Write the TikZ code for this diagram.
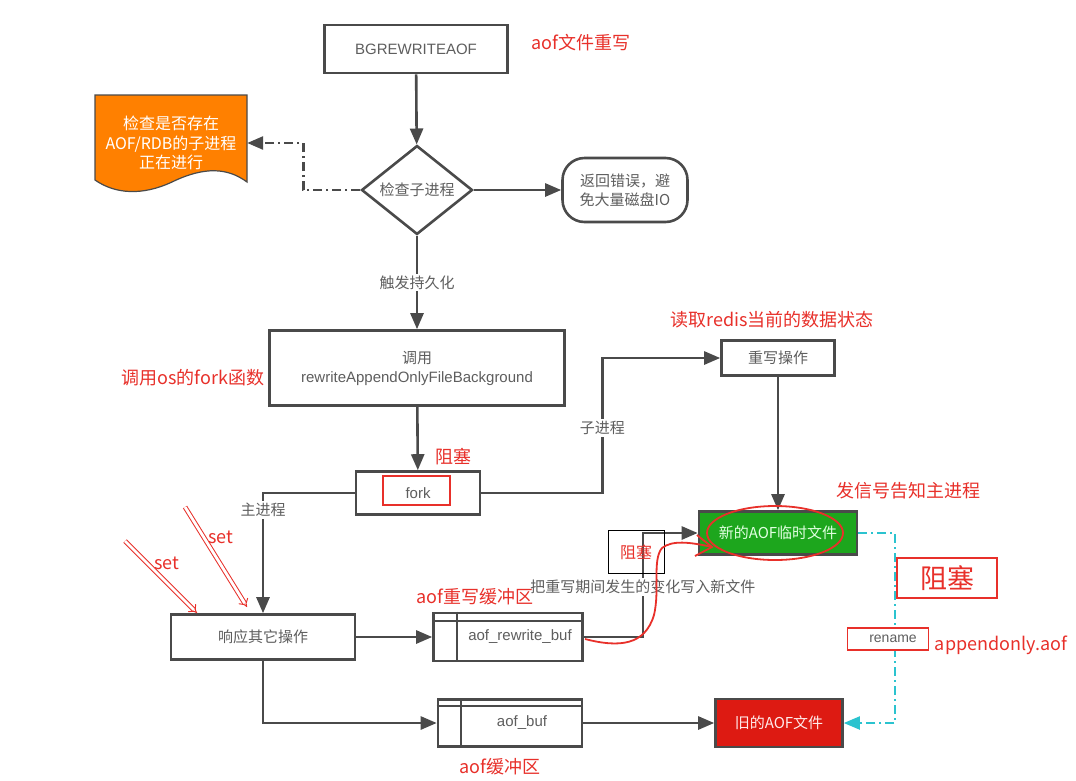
\documentclass[tikz,border=0pt]{standalone}
\usepackage{fontspec}
\setmainfont{Noto Sans CJK SC}
\newfontfamily\latinfont{Liberation Sans}
\usetikzlibrary{arrows.meta,shapes.geometric}

\definecolor{linegray}{HTML}{4A4A4A}
\definecolor{textgray}{HTML}{5E5E5E}
\definecolor{annored}{HTML}{E8302A}
\definecolor{filegreen}{HTML}{1DA61D}
\definecolor{oldred}{HTML}{DD1A12}
\definecolor{docorange}{HTML}{FF8000}
\definecolor{renamecyan}{HTML}{2BC3CF}

\tikzset{
  box/.style={draw=linegray, line width=2.6pt, fill=white, text=textgray,
    font=\fontsize{15}{19}\selectfont, align=center, inner sep=0pt},
  flow/.style={draw=linegray, line width=2.6pt, -{Triangle[length=16pt,width=13pt]}},
  flowlabel/.style={fill=white, text=textgray, font=\fontsize{15}{18}\selectfont, inner sep=2pt},
  note/.style={text=annored, font=\fontsize{18}{22}\selectfont, inner sep=0pt},
  dashdot/.style={dash pattern=on 9pt off 4pt on 2pt off 4pt},
  setarrow/.style={draw=annored, double=white, double distance=2.8pt, line width=1pt, -{Implies[length=9pt,width=16pt]}},
}

\begin{document}
\begin{tikzpicture}[x=1pt, y=-1pt]
  \path[use as bounding box, fill=white] (0,0) rectangle (1076,780);

  % Main column
  \node[box, minimum width=183pt, minimum height=48pt, font=\latinfont\fontsize{15}{18}\selectfont] (bgr) at (416,49) {BGREWRITEAOF};
  \node[box, diamond, minimum width=111pt, minimum height=84pt] (chk) at (417,190) {检查子进程};
  \node[box, rounded corners=22pt, minimum width=125pt, minimum height=64pt] (err) at (625,190) {返回错误，避\\免大量磁盘IO};
  \node[box, minimum width=295pt, minimum height=75pt] (call) at (417,368) {调用\\{\latinfont rewriteAppendOnlyFileBackground}};
  \node[box, minimum width=124pt, minimum height=43pt, font=\latinfont\fontsize{15}{18}\selectfont] (fork) at (418,493) {fork};

  % Document shape on the left
  \filldraw[draw=linegray, line width=1.2pt, fill=docorange] (95,95) -- (247,95) -- (247,182)
    .. controls (228,168) and (205,166) .. (172,182)
    .. controls (142,196) and (115,194) .. (95,180) -- cycle;
  \node[text=white, align=center, font=\fontsize{16}{19.5}\selectfont, minimum width=152pt, minimum height=80pt, inner sep=0pt] (doc) at (171,143) {检查是否存在\\AOF/RDB的子进程\\正在进行};

  % Child process side
  \node[box, minimum width=113pt, minimum height=35pt] (rwop) at (778,358) {重写操作};
  \node[box, draw=linegray, fill=filegreen, text=green!12!white, minimum width=158pt, minimum height=43pt] (newaof) at (778,533) {新的AOF临时文件};
  \node[box, draw=linegray, fill=oldred, text=red!8!white, minimum width=127pt, minimum height=48pt] (oldaof) at (779,723) {旧的AOF文件};

  % Main process side and buffers
  \node[box, minimum width=184pt, minimum height=45pt] (resp) at (263,637) {响应其它操作};
  \node[box, minimum width=149pt, minimum height=48pt, font=\latinfont\fontsize{15}{18}\selectfont] (rwbuf) at (508,637) {\hspace*{24pt}aof\_rewrite\_buf};
  \draw[linegray, line width=2.4pt] ([yshift=-9pt]rwbuf.north west) -- ([yshift=-9pt]rwbuf.north east);
  \draw[linegray, line width=2.4pt] ([xshift=25pt]rwbuf.north west) -- ([xshift=25pt]rwbuf.south west);
  \node[box, minimum width=144pt, minimum height=47pt, font=\latinfont\fontsize{15}{18}\selectfont] (aofbuf) at (510,723) {\hspace*{24pt}aof\_buf};
  \draw[linegray, line width=2.4pt] ([yshift=-8pt]aofbuf.north west) -- ([yshift=-8pt]aofbuf.north east);
  \draw[linegray, line width=2.4pt] ([xshift=24pt]aofbuf.north west) -- ([xshift=24pt]aofbuf.south west);

  % Connectors
  \draw[flow] (bgr) -- (chk);
  \draw[flow] (chk) -- (err);
  \draw[flow, dashdot] (chk.west) -- ++(-57,0) |- (doc.east);
  \draw[flow] (chk) -- (call) node[midway, flowlabel] {触发持久化};
  \draw[flow] (call) -- (fork);
  \draw[flow] (fork.west) -| (resp.north) node[pos=0.57, flowlabel] {主进程};
  \draw[flow] (fork.east) -- ++(121,0) |- (rwop.west) node[pos=0.24, flowlabel] {子进程};
  \draw[flow] (rwop) -- (newaof);
  \draw[flow] (resp) -- (rwbuf);
  \draw[flow] (resp.south) |- (aofbuf.west);
  \draw[flow] (rwbuf.east) -- ++(59,0) |- (newaof.west) node[pos=0.24, flowlabel] {把重写期间发生的变化写入新文件};
  \draw[flow] (aofbuf) -- (oldaof);
  \draw[flow, draw=renamecyan, line width=2pt, dashdot] (newaof.east) -- ++(37,0) |- (oldaof.east);
  \node[draw=annored, line width=1.5pt, fill=white, text=textgray, minimum width=81pt, minimum height=22pt, inner sep=0pt, font=\latinfont\fontsize{14}{16}\selectfont] (rename) at (888,639) {\hspace*{10pt}rename};

  % Red notes
  \node[note] (n1) at (581,43) {aof文件重写};
  \node[note] (n2) at (193,378) {调用os的fork函数};
  \node[note] (n3) at (453,457) {阻塞};
  \draw[annored, line width=1.5pt] (383,476) rectangle (450,505);
  \node[note] (n4) at (772,320) {读取redis当前的数据状态};
  \node[note] (n5) at (908,491) {发信号告知主进程};
  \node[note, draw=annored, line width=1.8pt, minimum width=100pt, minimum height=40pt, font=\fontsize{27}{30}\selectfont] (n6) at (947,578) {阻塞};
  \node[note] (n7) at (1001,645) {appendonly.aof};
  \node[note] (n8) at (475,597) {aof重写缓冲区};
  \node[note] (n9) at (500,767) {aof缓冲区};
  \node[note, draw=black, line width=0.8pt, minimum width=56pt, minimum height=43pt, font=\fontsize{16}{18}\selectfont] (n10) at (636,552) {阻塞};

  % set requests
  \coordinate (s1) at (125,541);
  \coordinate (s2) at (185,507);
  \draw[setarrow] (s1) -- (197,613) node[pos=0.4, anchor=south west, note] {set};
  \draw[setarrow] (s2) -- (247,607) node[pos=0.3, right=4pt, note] {set};

  % Hand-drawn marks
  \draw[annored, line width=1.8pt] (775,533) ellipse [x radius=68, y radius=27];
  \draw[annored, line width=1.8pt] (585,639) .. controls (620,648) and (645,645) .. (654,615)
    .. controls (660,590) and (652,560) .. (662,548) .. controls (672,540) and (690,542) .. (712,547);
  \draw[annored, line width=1.8pt] (697,535) -- (712,547) -- (695,556);
\end{tikzpicture}
\end{document}
